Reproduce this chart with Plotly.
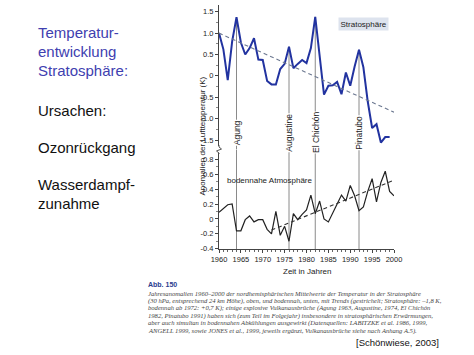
import plotly.graph_objects as go

# ---------------- data ----------------
years_strat = list(range(1960, 2000))
strat_anom = [1.0, 0.62, -0.1, 0.8, 1.37, 0.78, 0.5, 0.65, 0.88, 0.38,
              0.37, -0.12, -0.2, -0.2, 0.16, 0.28, 0.68, 0.18, 0.28, 0.37,
              0.3, 0.65, 1.38, 0.45, -0.44, -0.23, -0.22, -0.14, -0.43, 0.08,
              -0.23, 0.22, 0.61, 0.2, -0.6, -1.22, -1.13, -1.56, -1.43, -1.43]
strat_trend_years = [1960, 2000]
strat_trend_vals = [1.0, -0.85]

years_surf = list(range(1960, 2001))
surf_anom = [0.09, 0.14, 0.19, 0.2, -0.16, -0.16, -0.01, 0.04, -0.04, -0.01,
             -0.01, -0.14, -0.2, 0.1, -0.22, -0.1, -0.3, 0.07, -0.01, 0.06,
             0.12, 0.32, 0.07, 0.24, 0.0, -0.04, 0.09, 0.2, 0.32, 0.24,
             0.45, 0.31, 0.11, 0.16, 0.37, 0.54, 0.23, 0.49, 0.64, 0.37, 0.31]
surf_trend_years = [1972, 2000]
surf_trend_vals = [-0.15, 0.52]

volcano_names = ["Agung", "Augustine", "El Chichón", "Pinatubo"]
volcano_years = [1964, 1976, 1982, 1992]
volcano_top = [1.37, 0.68, 1.38, 0.61]

x_ticks = [1960, 1965, 1970, 1975, 1980, 1985, 1990, 1995, 2000]
top_ticks = [1.5, 1.0, 0.5, 0, -0.5, -1.0, -1.5]
top_ticktext = ["1.5", "1.0", "0.5", "0", "-0.5", "-1.0", "-1.5"]
bot_ticks = [0.8, 0.6, 0.4, 0.2, 0, -0.2, -0.4]
bot_ticktext = ["0.8", "0.6", "0.4", "0.2", "0", "-0.2", "-0.4"]

caption_lines = [
    "Jahresanomalien 1960–2000 der nordhemisphärischen Mittelwerte der Temperatur in der Stratosphäre",
    "(30 hPa, entsprechend 24 km Höhe), oben, und bodennah, unten, mit Trends (gestrichelt; Stratosphäre: –1,8 K,",
    "bodennah ab 1972: +0,7 K); einige explosive Vulkanausbrüche (Agung 1963, Augustine, 1974, El Chichón",
    "1982, Pinatubo 1991) haben sich (zum Teil im Folgejahr) insbesondere in stratosphärischen Erwärmungen,",
    "aber auch simultan in bodennahen Abkühlungen ausgewirkt (Datenquellen: LABITZKE et al. 1986, 1999,",
    "ANGELL 1999, sowie JONES et al., 1999, jeweils ergänzt, Vulkanausbrüche siehe nach Anhang A.5).",
]
left_blue = ["Temperatur-", "entwicklung", "Stratosphäre:"]
left_black = ["Ursachen:", "Ozonrückgang", "Wasserdampf-", "zunahme"]

# ---------------- layout helpers ----------------
W, H = 474, 355
ML, MR, MT, MB = 219, 80, 5, 106
PW, PH = W - ML - MR, H - MT - MB
SPLIT = 99.5 / PH
TOP_RANGE = [-1.722, 1.657]
BOT_RANGE = [-0.404, 0.932]
SANS = "Liberation Sans, Arial, sans-serif"
SERIF = "Liberation Serif, Times New Roman, serif"


def px(x):
    return (x - ML) / PW


def py(y):
    return (H - MB - y) / PH


fig = go.Figure()

fig.add_trace(go.Scatter(x=years_strat, y=strat_anom, mode="lines",
                         line=dict(color="#2233a0", width=2),
                         xaxis="x", yaxis="y", showlegend=False, hoverinfo="skip"))
fig.add_trace(go.Scatter(x=strat_trend_years, y=strat_trend_vals, mode="lines",
                         line=dict(color="#6c7890", width=1.1, dash="4px,3px"),
                         xaxis="x", yaxis="y", showlegend=False, hoverinfo="skip"))
fig.add_trace(go.Scatter(x=years_surf, y=surf_anom, mode="lines",
                         line=dict(color="#222222", width=1.2),
                         xaxis="x", yaxis="y2", showlegend=False, hoverinfo="skip"))
fig.add_trace(go.Scatter(x=surf_trend_years, y=surf_trend_vals, mode="lines",
                         line=dict(color="#333333", width=1.1, dash="4px,3px"),
                         xaxis="x", yaxis="y2", showlegend=False, hoverinfo="skip"))

shapes = []
annotations = []
for name, vy, vt in zip(volcano_names, volcano_years, volcano_top):
    shapes.append(dict(type="line", xref="x", yref="y", x0=vy, x1=vy,
                       y0=vt, y1=TOP_RANGE[0], layer="below",
                       line=dict(color="#8a8a8a", width=1)))
    shapes.append(dict(type="line", xref="x", yref="y2", x0=vy, x1=vy,
                       y0=BOT_RANGE[1], y1=BOT_RANGE[0], layer="below",
                       line=dict(color="#8a8a8a", width=1)))
    annotations.append(dict(x=vy, y=-1.33, xref="x", yref="y", text=name,
                            textangle=-90, showarrow=False, bgcolor="white",
                            borderpad=0, font=dict(family=SANS, size=8.5, color="#222")))

# axis break mark
shapes.append(dict(type="rect", xref="paper", yref="paper",
                   x0=px(216), x1=px(222), y0=py(153), y1=py(146),
                   fillcolor="white", line=dict(width=0)))
shapes.append(dict(type="path", xref="paper", yref="paper",
                   path=f"M {px(219)} {py(145)} L {px(219)} {py(147)} L {px(221.5)} {py(149)} "
                        f"L {px(216.5)} {py(151)} L {px(219)} {py(153)} L {px(219)} {py(154)}",
                   line=dict(color="#555", width=1)))

annotations += [
    dict(x=1993.1, y=1.21, xref="x", yref="y", text="Stratosphäre", showarrow=False,
         bgcolor="#dde3ee", borderpad=1.5, font=dict(family=SANS, size=8, color="#222")),
    dict(x=1961.3, y=0.52, xref="x", yref="y2", text="bodennahe Atmosphäre", showarrow=False,
         xanchor="left", font=dict(family=SANS, size=8, color="#222")),
    dict(x=px(195), y=py(136), xref="paper", yref="paper", text="Anomalien der Lufttemperatur (K)",
         textangle=-90, showarrow=False, font=dict(family=SANS, size=8, color="#222")),
    dict(x=px(307), y=py(271), xref="paper", yref="paper", text="Zeit in Jahren",
         showarrow=False, yanchor="middle", font=dict(family=SANS, size=8, color="#222")),
]

for i, t in enumerate(left_blue):
    annotations.append(dict(x=px(36), y=py(32.5 + 19.2 * i), xref="paper", yref="paper",
                            text=t, showarrow=False, xanchor="left", yanchor="middle",
                            font=dict(family=SANS, size=15, color="#4040b0")))
for t, yy in zip(left_black, [110, 147, 184, 203]):
    annotations.append(dict(x=px(36), y=py(yy), xref="paper", yref="paper",
                            text=t, showarrow=False, xanchor="left", yanchor="middle",
                            font=dict(family=SANS, size=15, color="#111")))

annotations.append(dict(x=px(146), y=py(284), xref="paper", yref="paper",
                        text="<b>Abb. 150</b>", showarrow=False, xanchor="left", yanchor="middle",
                        font=dict(family=SANS, size=7, color="#2b3d8f")))
for i, t in enumerate(caption_lines):
    annotations.append(dict(x=px(146), y=py(293.3 + 7.5 * i), xref="paper", yref="paper",
                            text=f"<i>{t}</i>", showarrow=False, xanchor="left", yanchor="middle",
                            font=dict(family=SERIF, size=6.6, color="#444")))
annotations.append(dict(x=px(441), y=py(342), xref="paper", yref="paper",
                        text="[Schönwiese, 2003]", showarrow=False, xanchor="right", yanchor="middle",
                        font=dict(family=SANS, size=9.5, color="#111")))

fig.update_layout(
    width=W, height=H,
    margin=dict(l=ML, r=MR, t=MT, b=MB, pad=0),
    paper_bgcolor="white", plot_bgcolor="white",
    showlegend=False, hovermode=False,
    xaxis=dict(domain=[0, 1], anchor="y2", range=[1960, 2000], tickvals=x_ticks,
               showline=True, linecolor="#444", linewidth=1, ticks="outside",
               ticklen=3, tickcolor="#444", showgrid=False, zeroline=False,
               tickfont=dict(family=SANS, size=7.5, color="#222"),
               minor=dict(dtick=1, tick0=1960, ticks="outside", ticklen=2, tickcolor="#666")),
    yaxis=dict(domain=[SPLIT, 1], anchor="x", range=TOP_RANGE, tickvals=top_ticks,
               ticktext=top_ticktext, showline=True, linecolor="#444", linewidth=1,
               ticks="outside", ticklen=3, tickcolor="#444", showgrid=False, zeroline=False,
               tickfont=dict(family=SANS, size=7.5, color="#222"),
               minor=dict(dtick=0.25, tick0=0, ticks="outside", ticklen=2, tickcolor="#888")),
    yaxis2=dict(domain=[0, SPLIT], anchor="x", range=BOT_RANGE, tickvals=bot_ticks,
                ticktext=bot_ticktext, showline=True, linecolor="#444", linewidth=1,
                ticks="outside", ticklen=3, tickcolor="#444", showgrid=False, zeroline=False,
                tickfont=dict(family=SANS, size=7.5, color="#222"),
                minor=dict(dtick=0.1, tick0=0, ticks="outside", ticklen=2, tickcolor="#888")),
    shapes=shapes,
    annotations=annotations,
)

fig.write_html("out.html", config={"displayModeBar": False, "staticPlot": True},
               post_script="document.body.style.margin='0';document.body.style.padding='0';")
